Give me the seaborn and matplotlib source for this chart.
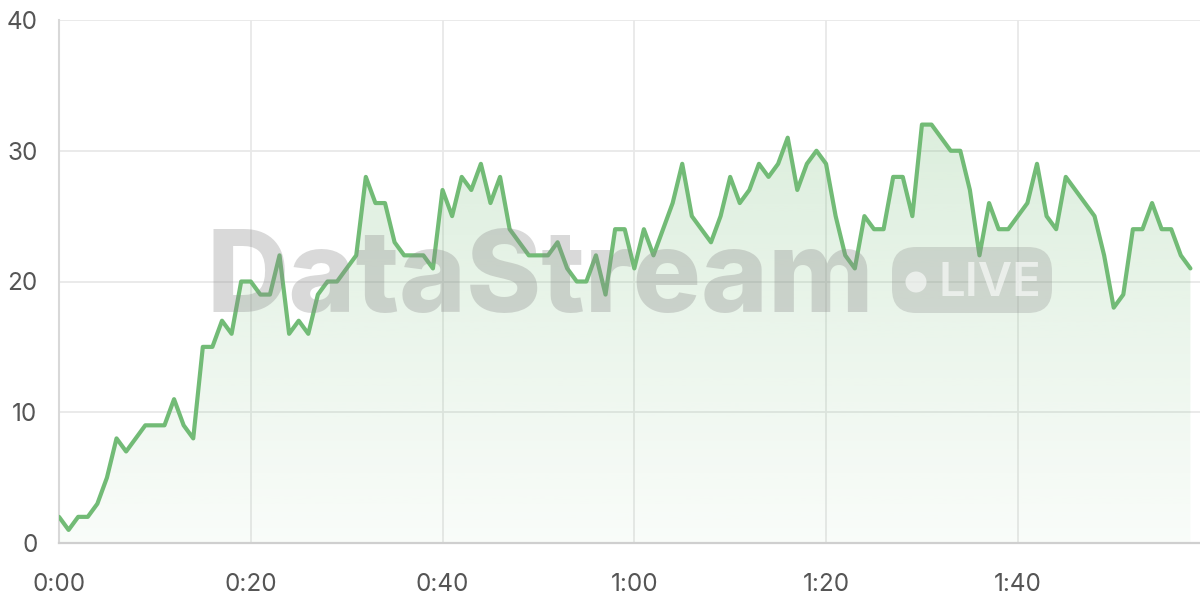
import numpy as np
import pandas as pd
import matplotlib
matplotlib.use("Agg")
import matplotlib.pyplot as plt
import seaborn as sns
from matplotlib.patches import FancyBboxPatch, Ellipse

# ---- data ----
values = [2, 1, 2, 2, 3, 5, 8, 7, 8, 9, 9, 9, 11, 9, 8, 15, 15, 17, 16, 20,
          20, 19, 19, 22, 16, 17, 16, 19, 20, 20, 21, 22, 28, 26, 26, 23, 22, 22, 22, 21,
          27, 25, 28, 27, 29, 26, 28, 24, 23, 22, 22, 22, 23, 21, 20, 20, 22, 19, 24, 24,
          21, 24, 22, 24, 26, 29, 25, 24, 23, 25, 28, 26, 27, 29, 28, 29, 31, 27, 29, 30,
          29, 25, 22, 21, 25, 24, 24, 28, 28, 25, 32, 32, 31, 30, 30, 27, 22, 26, 24, 24,
          25, 26, 29, 25, 24, 28, 27, 26, 25, 22, 18, 19, 24, 24, 26, 24, 24, 22, 21]
seconds = list(range(len(values)))
x_ticks = [0, 20, 40, 60, 80, 100]
x_tick_labels = ["0:00", "0:20", "0:40", "1:00", "1:20", "1:40"]
y_ticks = [0, 10, 20, 30, 40]
watermark = "DataStream"
badge = "LIVE"

df = pd.DataFrame({"t": seconds, "v": values})

LINE = "#72bb76"
GRID = "#e8e8e8"
TXT = "#555555"

sns.set_theme(style="white")
plt.rcParams["font.family"] = ["Inter", "DejaVu Sans"]

fig = plt.figure(figsize=(12, 6), dpi=100)
ax = fig.add_axes([59 / 1200, 57 / 600, 1 - 59 / 1200, 523 / 600])

ax.set_xlim(0, 119)
ax.set_ylim(0, 40)

# gradient fill
poly = ax.fill_between(df["t"], df["v"], 0, color="none", lw=0)
grad = np.linspace(0.04, 0.26, 256).reshape(-1, 1)
rgba = np.zeros((256, 1, 4))
rgba[..., 0] = 0x72 / 255
rgba[..., 1] = 0xbb / 255
rgba[..., 2] = 0x76 / 255
rgba[..., 3] = grad
im = ax.imshow(rgba, extent=[0, 118, 0, 34], origin="lower", aspect="auto", zorder=1)
path = poly.get_paths()[0]
im.set_clip_path(path, transform=ax.transData)
ax.set_xlim(0, 119)
ax.set_ylim(0, 40)

sns.lineplot(data=df, x="t", y="v", ax=ax, color=LINE, lw=3.0, zorder=5)

ax.set_xticks(x_ticks)
ax.set_xticklabels(x_tick_labels)
ax.set_yticks(y_ticks)
ax.grid(True, color=GRID, lw=1.3)
ax.set_axisbelow(True)
ax.tick_params(axis="both", length=11.5, width=1.3, color=GRID, labelsize=17.5,
               labelcolor=TXT)
ax.tick_params(axis="y", pad=4)
ax.tick_params(axis="x", pad=10)
ax.set_xlabel("")
ax.set_ylabel("")
for s in ["top", "right"]:
    ax.spines[s].set_visible(False)
ax.spines["left"].set_color("#d8d8d8")
ax.spines["left"].set_linewidth(1.5)
ax.spines["bottom"].set_color("#cfcfcf")
ax.spines["bottom"].set_linewidth(1.6)
ax.spines["bottom"].set_zorder(6)

# watermark
fig.text(207 / 1200, (600 - 312) / 600, watermark, fontsize=82, fontweight="heavy",
         color="#8a8a8a", alpha=0.32, ha="left", va="baseline", zorder=3,
         family=["Inter", "DejaVu Sans"])
box = FancyBboxPatch((892 / 1200, (600 - 313) / 600), 160 / 1200, 66 / 600,
                     boxstyle="round,pad=0,rounding_size=0.02",
                     transform=fig.transFigure, facecolor="#8a8a8a", alpha=0.28,
                     edgecolor="none", zorder=3, mutation_aspect=2)
fig.patches.append(box)
fig.patches.append(Ellipse((916 / 1200, (600 - 282) / 600), 21 / 1200, 21 / 600,
                           transform=fig.transFigure, facecolor="white", alpha=0.6,
                           edgecolor="none", zorder=4))
fig.text(938 / 1200, (600 - 296) / 600, badge, fontsize=34, fontweight="semibold",
         color="white", alpha=0.6, ha="left", va="baseline", zorder=4)

fig.savefig("out.png", dpi=100)
